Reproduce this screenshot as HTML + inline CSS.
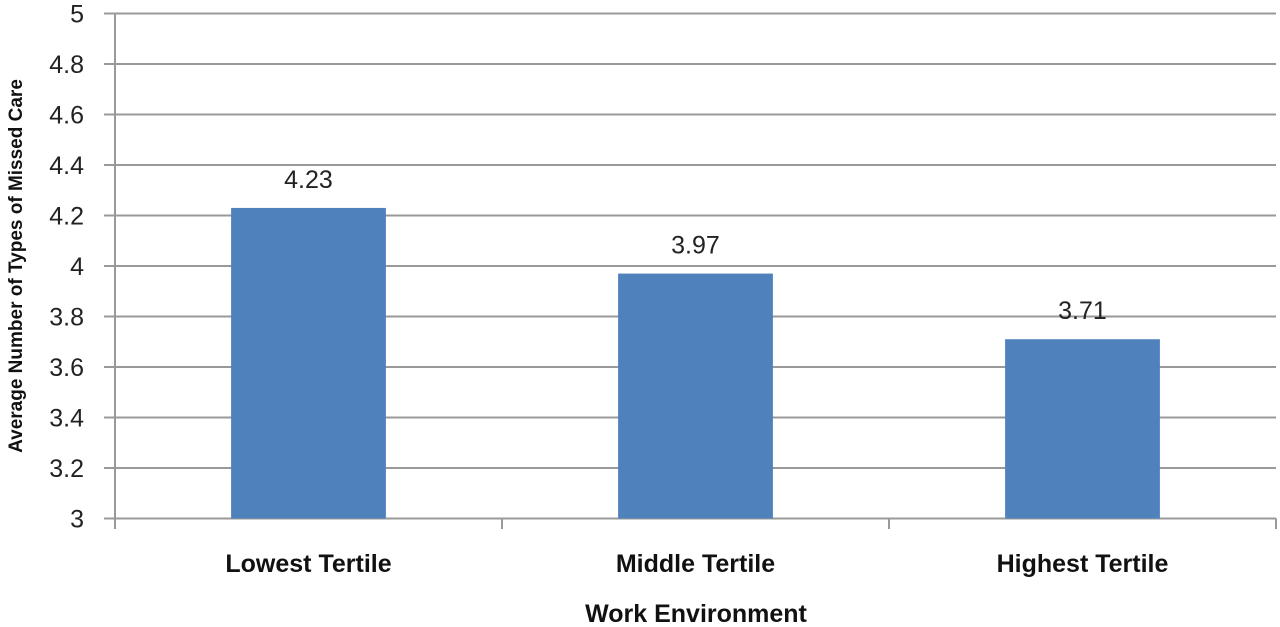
<!DOCTYPE html>
<html><head><meta charset="utf-8"><style>
body{margin:0;background:#fff;}
svg{display:block;font-family:"Liberation Sans",sans-serif;}
</style></head><body>
<svg id="chart" width="1280" height="627"></svg>
<script>
const categories=["Lowest Tertile","Middle Tertile","Highest Tertile"];
const values=[4.23,3.97,3.71];
const valueLabels=["4.23","3.97","3.71"];
const yTicks=[3,3.2,3.4,3.6,3.8,4,4.2,4.4,4.6,4.8,5];
const yTickLabels=["3","3.2","3.4","3.6","3.8","4","4.2","4.4","4.6","4.8","5"];
const NS="http://www.w3.org/2000/svg";
const svg=document.getElementById('chart');
const x0=115,x1=1276,yTop=13.5,yBot=518.5,yMin=3,yMax=5;
const y=v=>yBot-(v-yMin)/(yMax-yMin)*(yBot-yTop);
const bw=(x1-x0)/categories.length;
const xc=i=>x0+bw*(i+0.5);
function mk(t,a){const e=document.createElementNS(NS,t);for(const k in a)e.setAttribute(k,a[k]);svg.appendChild(e);return e;}
yTicks.forEach((v,i)=>{
 const g=mk('line',{x1:104,x2:x1,y1:y(v),y2:y(v),stroke:'#999','stroke-width':2});
 
 
 const t=mk('text',{x:84,y:y(v)+9,'text-anchor':'end','font-size':25,fill:'#222'});
 t.textContent=yTickLabels[i];
 
 
});
const ax=mk('line',{x1:x0,x2:x0,y1:yTop,y2:yBot,stroke:'#999','stroke-width':2});


for(let i=0;i<=categories.length;i++){
 const tk=mk('line',{x1:x0+bw*i,x2:x0+bw*i,y1:yBot,y2:529,stroke:'#999','stroke-width':2});
 
 
}
categories.forEach((c,i)=>{
 const w=bw*0.4;
 const r=mk('rect',{x:xc(i)-w/2,y:y(values[i]),width:w,height:yBot-y(values[i]),fill:'#4f81bd'});
 
 
 const l=mk('text',{x:xc(i),y:y(values[i])-20,'text-anchor':'middle','font-size':25,fill:'#222'});
 l.textContent=valueLabels[i];
 
 
 const ct=mk('text',{x:xc(i),y:572,'text-anchor':'middle','font-size':25,'font-weight':'bold',fill:'#111'});
 ct.textContent=c;
 
 
});
const xt=mk('text',{x:696,y:622,'text-anchor':'middle','font-size':25,'font-weight':'bold',fill:'#111'});
xt.textContent="Work Environment";


const yt=mk('text',{x:0,y:0,'text-anchor':'middle','font-size':19,'font-weight':'bold',fill:'#111',transform:'translate(22,266) rotate(-90)'});
yt.textContent="Average Number of Types of Missed Care";


</script>
</body></html>
